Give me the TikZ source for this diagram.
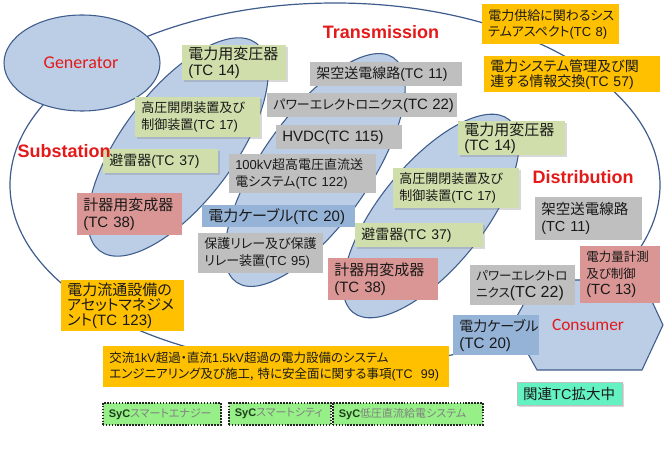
\documentclass[tikz,border=0pt]{standalone}
\usepackage{fontspec}
\newfontfamily\jp[RawFeature=+palt]{Noto Sans CJK JP}
\newfontfamily\lsans{Liberation Sans}
\newfontfamily\carl{Carlito}
\usetikzlibrary{shadows}
\definecolor{ellfill}{RGB}{187,206,230}
\definecolor{elldraw}{RGB}{62,92,140}
\definecolor{gbox}{RGB}{207,222,170}
\definecolor{graybox}{RGB}{191,191,191}
\definecolor{pinkbox}{RGB}{218,150,148}
\definecolor{bluebox}{RGB}{149,179,215}
\definecolor{orangebox}{RGB}{255,192,0}
\definecolor{mintbox}{RGB}{100,242,195}
\definecolor{sycfill}{RGB}{150,240,135}
\definecolor{sycdark}{RGB}{30,60,30}
\definecolor{lblred}{RGB}{228,25,25}
\def\ltf{1}
\newcommand{\lt}[1]{{\lsans\pgfmathsetmacro\ltsz{\bxs*\ltf}\fontsize{\ltsz}{\bxl}\selectfont #1}}
\newcommand{\nl}{\\\hspace*{4.5pt}}
\newcommand{\bx}[9]{%
  \pgfmathsetmacro\bxw{#5*0.75}\pgfmathsetmacro\bxh{#6*0.75}%
  \pgfmathsetmacro\bxs{#7*0.75}\pgfmathsetmacro\bxl{#8*0.75}%
  \node[#2, anchor=north west, minimum width=\bxw pt, minimum height=\bxh pt,
        text width=\bxw pt, font=\jp\fontsize{\bxs}{\bxl}\selectfont] (#1) at (#3,#4) {\hspace*{4.5pt}#9};}
\tikzset{
  ell/.style={fill=ellfill, draw=elldraw, line width=0.8pt},
  tcbox/.style={inner xsep=0pt, inner ysep=1pt, align=left, text=black!90},
  shd/.style={drop shadow={shadow xshift=1.3pt, shadow yshift=-1.3pt, opacity=0.3}},
  gbx/.style={tcbox, fill=gbox, shd},
  grbx/.style={tcbox, fill=graybox},
  pbx/.style={tcbox, fill=pinkbox},
  bbx/.style={tcbox, fill=bluebox},
  obx/.style={tcbox, fill=orangebox},
  mbx/.style={tcbox, fill=mintbox, draw=black!25, line width=0.3pt, shd},
  sbx/.style={tcbox, fill=sycfill, draw=black!85, dash pattern=on 1.2pt off 1pt, line width=1.2pt, text=black!50},
  lbl/.style={text=lblred, inner sep=0pt},
}
\begin{document}
\begin{tikzpicture}[x=0.75pt, y=-0.75pt]
\useasboundingbox (0,0) rectangle (669,449);
\fill[white] (0,0) rectangle (669,449);
% outer domain
\draw[draw=elldraw, line width=0.9pt] (335,185) ellipse [x radius=243.75pt, y radius=136.5pt];
% generator
\draw[ell] (82,63) ellipse [x radius=58.5pt, y radius=36pt];
% substation, transmission, distribution regions
\draw[ell, rotate around={53:(178,147)}] (178,147) ellipse [x radius=97.5pt, y radius=42pt];
\draw[ell, rotate around={55:(315,170)}] (315,170) ellipse [x radius=102.75pt, y radius=40.5pt];
\draw[ell, rotate around={51:(431,216)}] (431,216) ellipse [x radius=93pt, y radius=39pt];
% consumer hexagon
\draw[ell] (537,280) -- (642,280) -- (663,325) -- (642,370) -- (537,370) -- (512,325) -- cycle;

% boxes
\bx{sT14}{gbx}{182}{45}{104}{35}{15}{16}{電力用変圧器\nl\lt{(TC 14)}}
\bx{sT17}{gbx}{135}{97}{125}{40}{13}{17}{高圧開閉装置及び\nl 制御装置\lt{(TC 17)}}
\bx{sT37}{gbx}{103}{149}{115}{24}{14}{16}{避雷器\lt{(TC 37)}}
\bx{sT38}{pbx}{77}{193}{105}{42}{15}{17}{計器用変成器\nl\lt{(TC 38)}}
\bx{tT11}{grbx}{310}{62}{152}{24}{14}{16}{架空送電線路\lt{(TC 11)}}
\def\ltf{1.15}
\bx{tT22}{grbx}{267}{93}{190}{24}{13}{16}{パワーエレクトロニクス\lt{(TC 22)}}
\def\ltf{1}
\bx{tHV}{grbx}{276}{125}{126}{24}{15}{16}{\lt{HVDC(TC 115)}}
\bx{tT122}{grbx}{229}{154}{147}{39}{13}{17}{\lt{100kV}超高電圧直流送\nl 電システム\lt{(TC 122)}}
\bx{tT20}{bbx}{202}{205}{153}{22}{15}{16}{電力ケーブル\lt{(TC 20)}}
\bx{tT95}{grbx}{198}{233}{125}{40}{13}{17}{保護リレー及び保護\nl リレー装置\lt{(TC 95)}}
\bx{T8}{obx}{482}{4}{137}{40}{13}{16}{電力供給に関わるシス\nl テムアスペクト\lt{(TC 8)}}
\bx{T57}{obx}{484}{56}{176}{36}{14}{15}{電力システム管理及び関\nl 連する情報交換\lt{(TC 57)}}
\bx{dT14}{gbx}{458}{121}{107}{34}{15}{15}{電力用変圧器\nl\lt{(TC 14)}}
\bx{dT17}{gbx}{393}{168}{126}{40}{13}{17}{高圧開閉装置及び\nl 制御装置\lt{(TC 17)}}
\bx{dT37}{gbx}{355}{223}{128}{24}{14}{16}{避雷器\lt{(TC 37)}}
\bx{dT38}{pbx}{328}{258}{110}{42}{15}{17}{計器用変成器\nl\lt{(TC 38)}}
\bx{dT11}{grbx}{535}{197}{107}{43}{14.5}{17}{架空送電線路\nl\lt{(TC 11)}}
\def\ltf{1.28}
\bx{dT22}{grbx}{470}{265}{105}{40}{12.5}{17}{パワーエレクトロ\nl ニクス\lt{(TC 22)}}
\def\ltf{1.18}
\bx{T13}{pbx}{580}{246}{80}{57}{12.5}{16.5}{電力量計測\nl 及び制御\nl\lt{(TC 13)}}
\def\ltf{1.08}
\bx{dT20}{bbx}{453}{315}{86}{40}{14}{17}{電力ケーブル\nl\lt{(TC 20)}}
\def\ltf{1}
\bx{T123}{obx}{61}{280}{123}{51}{15}{15}{電力流通設備の\nl アセットマネジメ\nl ント\lt{(TC 123)}}
\bx{T99}{obx}{103}{346}{346}{41}{12.5}{16.5}{交流\lt{1kV}超過・直流\lt{1.5kV}超過の電力設備のシステム\nl エンジニアリング及び施工, 特に安全面に関する事項\lt{(TC\ \ 99)}}
\bx{Tmore}{mbx}{517}{382}{105}{23}{14.5}{16}{関連\lt{TC}拡大中}
\bx{S1}{sbx}{102}{402}{118}{22}{11}{12}{\textcolor{sycdark}{\lt{\bfseries SyC}}スマートエナジー}
\bx{S2}{sbx}{228}{402}{102}{22}{11}{12}{\textcolor{sycdark}{\lt{\bfseries SyC}}スマートシティ}
\bx{S3}{sbx}{332}{402}{150}{22}{11}{12}{\textcolor{sycdark}{\lt{\bfseries SyC}}低圧直流給電システム}

% region labels
\node[lbl, font=\carl\fontsize{13.5}{14}\selectfont] (gen) at (81,63) {Generator};
\node[lbl, font=\carl\fontsize{13}{14}\selectfont] (cons) at (588,325) {Consumer};
\node[lbl, font=\lsans\bfseries\fontsize{13.5}{14}\selectfont] (trans) at (381,32) {Transmission};
\node[lbl, font=\lsans\bfseries\fontsize{13.5}{14}\selectfont] (dist) at (583,177) {Distribution};
\node[lbl, font=\lsans\bfseries\fontsize{13.5}{14}\selectfont] (subst) at (64,151) {Substation};
\end{tikzpicture}
\end{document}
